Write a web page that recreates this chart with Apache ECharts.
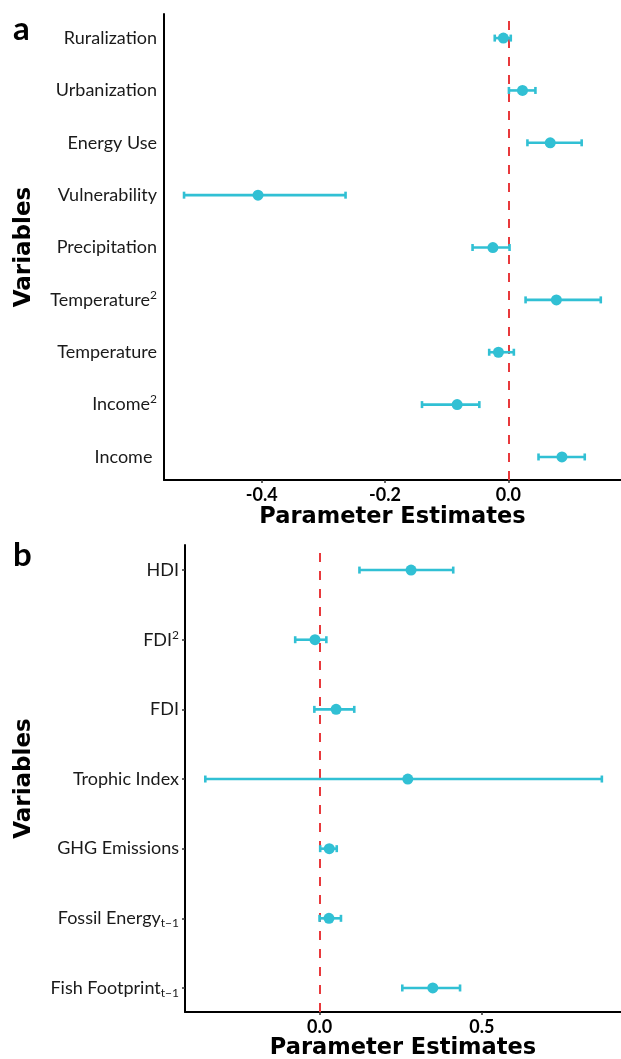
<!DOCTYPE html>
<html>
<head>
<meta charset="utf-8">
<script src="https://cdn.jsdelivr.net/npm/echarts@6/dist/echarts.min.js"></script>
<style>html,body{margin:0;padding:0;background:#fff}#c{width:621px;height:1059px}</style>
</head>
<body>
<div id="c"></div>
<script>
// Panel a (bottom to top)
const labelsA = ['Income ', 'Income{sup|2}', 'Temperature', 'Temperature{sup|2}', 'Precipitation', 'Vulnerability', 'Energy Use', 'Urbanization', 'Ruralization'];
const estA  = [0.087, -0.083, -0.016, 0.078, -0.025, -0.406, 0.068, 0.023, -0.008];
const lowA  = [0.049, -0.140, -0.031, 0.028, -0.058, -0.526, 0.031, 0.001, -0.022];
const highA = [0.124, -0.047, 0.009, 0.150, 0.002, -0.264, 0.119, 0.044, 0.004];
const ticksA = [-0.4, -0.2, 0.0];

// Panel b (bottom to top)
const labelsB = ['Fish Footprint{sub|t\u22121}', 'Fossil Energy{sub|t\u22121}', 'GHG Emissions', 'Trophic Index', 'FDI', 'FDI{sup|2}', 'HDI'];
const estB  = [0.349, 0.029, 0.030, 0.272, 0.051, -0.014, 0.282];
const lowB  = [0.255, 0.000, 0.002, -0.352, -0.016, -0.075, 0.123];
const highB = [0.433, 0.066, 0.053, 0.870, 0.107, 0.021, 0.412];
const ticksB = [0.0, 0.5];

const COL = '#31C0D4';
const RED = '#E8393C';
const FONT = 'Lato';
const TFONT = 'DejaVu Sans';

function errItem(params, api) {
  const y = api.value(0), lo = api.value(1), hi = api.value(2);
  const p1 = api.coord([lo, y]), p2 = api.coord([hi, y]);
  const h = 3.5;
  const st = { stroke: COL, lineWidth: 2.6 };
  return { type: 'group', children: [
    { type: 'line', shape: { x1: p1[0], y1: p1[1], x2: p2[0], y2: p2[1] }, style: st },
    { type: 'line', shape: { x1: p1[0], y1: p1[1] - h, x2: p1[0], y2: p1[1] + h }, style: st },
    { type: 'line', shape: { x1: p2[0], y1: p2[1] - h, x2: p2[0], y2: p2[1] + h }, style: st }
  ]};
}

const rich = {
  sup: { fontSize: 12, fontFamily: FONT, color: '#1a1a1a', verticalAlign: 'top', lineHeight: 12 },
  sub: { fontSize: 12, fontFamily: FONT, color: '#1a1a1a', verticalAlign: 'bottom', lineHeight: 12 }
};

function yAxisCfg(gi, labels, min, max, tick, gap, margin) {
  const vals = labels.map((_, i) => i);
  return {
    gridIndex: gi, type: 'value', min: min, max: max,
    name: 'Variables', nameLocation: 'middle', nameGap: gap, nameRotate: 90,
    nameTextStyle: { fontFamily: TFONT, fontWeight: 'bold', fontSize: 23, color: '#000' },
    axisLine: { show: true, onZero: false, lineStyle: { color: '#000', width: 2 } },
    axisTick: { show: tick, length: 3, customValues: vals, lineStyle: { color: '#333', width: 1.5 } },
    axisLabel: { customValues: vals, margin: margin, fontFamily: FONT, fontSize: 18, color: '#1a1a1a', lineHeight: 22,
      formatter: v => labels[Math.round(v)], rich: rich },
    splitLine: { show: false }
  };
}

function xAxisCfg(gi, min, max, ticks, gap) {
  return {
    gridIndex: gi, type: 'value', min: min, max: max,
    name: 'Parameter Estimates', nameLocation: 'middle', nameGap: gap,
    nameTextStyle: { fontFamily: TFONT, fontWeight: 'bold', fontSize: 22.5, color: '#000', verticalAlign: 'top' },
    axisLine: { show: true, onZero: false, lineStyle: { color: '#000', width: 2 } },
    axisTick: { show: true, length: 3, customValues: ticks, lineStyle: { color: '#333', width: 1.5 } },
    axisLabel: { customValues: ticks, margin: 6, fontFamily: FONT, fontWeight: 'bold', fontSize: 18, color: '#000',
      formatter: v => v.toFixed(1) },
    splitLine: { show: false }
  };
}

function seriesFor(idx, est, low, high) {
  return [
    { type: 'custom', xAxisIndex: idx, yAxisIndex: idx, renderItem: errItem,
      encode: { x: [1, 2], y: 0 }, data: est.map((_, i) => [i, low[i], high[i]]), z: 2, silent: true },
    { type: 'scatter', xAxisIndex: idx, yAxisIndex: idx, symbolSize: 11, itemStyle: { color: COL, opacity: 1 },
      data: est.map((v, i) => [v, i]), z: 3, silent: true,
      markLine: { silent: true, symbol: 'none', label: { show: false },
        lineStyle: { color: RED, width: 2, type: [9, 9] }, data: [{ xAxis: 0 }], z: 1 } }
  ];
}

const chart = echarts.init(document.getElementById('c'), null, { renderer: 'canvas' });
chart.setOption({
  animation: false,
  backgroundColor: '#fff',
  grid: [
    { left: 164, right: 0, top: 14, height: 466, containLabel: false, outerBoundsMode: 'none' },
    { left: 185, right: 0, top: 545, height: 467, containLabel: false, outerBoundsMode: 'none' }
  ],
  xAxis: [ xAxisCfg(0, -0.5585, 0.1828, ticksA, 26), xAxisCfg(1, -0.4146, 0.929, ticksB, 23) ],
  yAxis: [ yAxisCfg(0, labelsA, -0.44, 8.46, false, 128, 7), yAxisCfg(1, labelsB, -0.345, 6.36, true, 149, 6) ],
  graphic: [
    { type: 'text', left: 13, top: 13, style: { text: 'a', fontFamily: FONT, fontWeight: 'bold', fontSize: 33, fill: '#000' } },
    { type: 'text', left: 13, top: 539, style: { text: 'b', fontFamily: FONT, fontWeight: 'bold', fontSize: 33, fill: '#000' } }
  ],
  series: [].concat(seriesFor(0, estA, lowA, highA), seriesFor(1, estB, lowB, highB))
});
</script>
</body>
</html>
